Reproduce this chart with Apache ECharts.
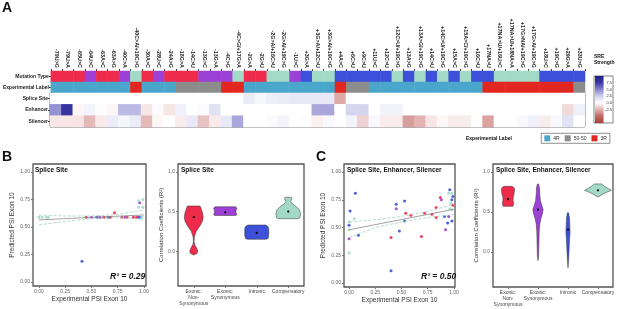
<!DOCTYPE html>
<html>
<head>
<meta charset="utf-8">
<script src="https://cdn.jsdelivr.net/npm/echarts@6/dist/echarts.min.js"></script>
<style>
  html, body { margin: 0; padding: 0; background: #fff; }
  #main { width: 617px; height: 309px; }
</style>
</head>
<body>
<div id="main"></div>
<script>
// ---- panel A: variants (columns of the heatmap)
var variants = ['-79U>G', '-79U>A', '-65U>C', '-64U>C', '-63A>C', '-63A>G', '-40C>A', '-40C>A/+19C>G',
  '-30A>C', '-28U>C', '-24A>G', '-18G>A', '-14C>U', '-13G>C', '-13G>A', '-4C>G', '-4C>G/+17G>A',
  '-2G>A', '-2G>U', '-2G>A/+16C>U', '-2G>A/+19C>G', '-1U>C', '+3G>A', '+3G>A/+12C>U', '+3G>A/+19C>G',
  '+4A>C', '+6C>U', '+9C>U', '+11U>C', '+12C>U', '+12C>U/+19C>G', '+13A>G', '+13A>G/+19C>G',
  '+14C>U', '+14C>U/+19C>G', '+15A>C', '+15A>C/+19C>G', '+16C>U', '+17NA>U', '+17NA>U/+16U>C',
  '+17NA>U/+18NA>A', '+17G>NA/+19C>G', '+17G>A/+19C>G', '+18U>C', '+19C>G', '+29G>A', '+33U>G']
var topRows = ['Mutation Type', 'Experimental Label']
var sreRows = ['Splice Site', 'Enhancer', 'Silencer']
// 0 exonic non-synonymous, 1 exonic synonymous, 2 intronic, 3 compensatory
var mutationType = [0, 0, 0, 1, 0, 0, 1, 3, 0, 1, 0, 0, 0, 1, 1, 1, 3, 0, 0, 3, 3, 1, 2, 3, 3,
  2, 2, 2, 2, 2, 3, 2, 3, 2, 3, 2, 3, 2, 2, 3, 3, 3, 3, 2, 2, 2, 2]
// 0 4R, 1 50-50, 2 3R
var expLabel = [0, 0, 0, 0, 0, 0, 0, 2, 0, 0, 0, 1, 1, 1, 1, 2, 2, 0, 0, 0, 0, 0, 0, 0, 0,
  2, 1, 1, 0, 0, 0, 0, 0, 0, 0, 0, 0, 0, 2, 2, 2, 2, 2, 2, 2, 2, 1]
var spliceSite = [0, 0, 0, 0, 0, 0, 0, 0, 0, 0, 0, 0, 0, 0, 0, 0, 0, 1.0, 0.5, 0.9, 1.0, 1.2, 1.2, 1.2, 1.2,
  -2.8, 0, 0, 0, 0, 0, 0, 0, 0, 0, 0, 0, 0, 0, 0, 0, 0, 0, 0, 0, 0, 0]
var enhancer = [4.5, 8.0, -0.3, 0.6, 0.1, -0.3, 3.2, 3.2, -0.8, 0.2, -0.8, 0.8, 0, 0.2, 1.5, 0, 0, 0, 0, 0,
  0, 0, 0, 3.8, 3.8, 0, 2.2, 2.2, 0, 0.7, 0.7, 0, 0, 0, 0, 0, 0, 0, 0, 0, 0, 0, 0, 0, 0, -1.2, 0.8]
var silencer = [-0.8, -0.8, -0.9, -2.3, -0.7, 1.0, 0.5, 1.0, -2.3, -0.3, 0, -0.6, 1.2, -2.0, -0.7, 1.2, 3.8,
  0, 0, 0.2, 0.6, 0, 0.1, -0.5, 0.3, 0, 0.6, -1.5, 0.3, -0.6, -0.6, -3.2, -2.5, -0.8, -0.3, -0.6, -0.6, 0,
  -3.0, 0, 0, 0.3, 0.8, -0.6, 0.3, 1.5, 0]
var sreTicks = [-2.5, 0, 2.5, 5, 7.5]

// ---- panels B / C: scatter (experimental vs predicted PSI)
var bNonSyn = [[0.45, 0.59], [0.62, 0.59], [0.68, 0.59], [0.72, 0.63], [0.79, 0.59], [0.84, 0.59], [0.9, 0.59], [0.93, 0.59]]
var bSyn = [[0.5, 0.59], [0.58, 0.59], [0.82, 0.59], [0.96, 0.72]]
var bIntronic = [[0.41, 0.19], [0.55, 0.59], [0.66, 0.59], [0.95, 0.59], [0.97, 0.59]]
var bComp = [[0.0, 0.59], [0.03, 0.59], [0.07, 0.59], [0.09, 0.59], [0.95, 0.74], [0.99, 0.75], [0.95, 0.68], [0.99, 0.68], [0.98, 0.59]]
var bFit = [[0, 0.565], [1, 0.61]]
var bUpper = [[0, 0.61], [0.25, 0.6], [0.5, 0.6], [0.75, 0.615], [1, 0.655]]
var bLower = [[0, 0.52], [0.25, 0.55], [0.5, 0.575], [0.75, 0.585], [1, 0.57]]

var cNonSyn = [[0.40, 0.41], [0.54, 0.63], [0.59, 0.61], [0.69, 0.42], [0.72, 0.63], [0.79, 0.62], [0.83, 0.68], [0.83, 0.59], [0.87, 0.77], [0.99, 0.70]]
var cSyn = [[0, 0.40], [0.45, 0.67], [0.88, 0.75], [0.92, 0.48], [0.95, 0.60]]
var cIntronic = [[0.06, 0.81], [0.01, 0.65], [0, 0.52], [0.09, 0.43], [0.45, 0.71], [0.53, 0.74], [0.53, 0.56], [0.48, 0.47],
  [0.40, 0.11], [0.91, 0.60], [0.94, 0.54], [0.96, 0.84], [0.98, 0.75], [0.99, 0.78], [0.98, 0.56]]
var cComp = [[0, 0.48], [0, 0.27], [0.05, 0.58], [0, 0.55], [0.98, 0.81], [0.98, 0.66], [0.96, 0.67], [0.95, 0.81], [0.97, 0.72]]
var cFit = [[0, 0.48], [1, 0.665]]
var cUpper = [[0, 0.55], [0.25, 0.57], [0.5, 0.6], [0.75, 0.645], [1, 0.71]]
var cLower = [[0, 0.41], [0.25, 0.5], [0.5, 0.55], [0.75, 0.59], [1, 0.62]]

// ---- violins: [R2 value, half width as share of the band]
var groups = ['Exonic:\nNon-\nSynonymous', 'Exonic:\nSynonymous', 'Intronic', 'Compensatory']
var bMedian = [0.43, 0.49, 0.23, 0.50]
var bProfiles = [
  [[-0.05, 0], [-0.03, 0.1], [0.0, 0.13], [0.04, 0.09], [0.08, 0.03], [0.12, 0.01], [0.18, 0.02], [0.25, 0.08],
    [0.32, 0.2], [0.38, 0.28], [0.43, 0.3], [0.48, 0.28], [0.53, 0.24], [0.57, 0.2]],
  [[0.45, 0.33], [0.46, 0.37], [0.49, 0.34], [0.51, 0.34], [0.54, 0.37], [0.56, 0.33]],
  [[0.15, 0.3], [0.16, 0.36], [0.2, 0.38], [0.28, 0.38], [0.31, 0.36], [0.33, 0.28]],
  [[0.41, 0.32], [0.42, 0.37], [0.47, 0.39], [0.52, 0.36], [0.56, 0.26], [0.6, 0.12], [0.63, 0.07], [0.66, 0.12], [0.68, 0.1]]
]
var cMedian = [0.66, 0.53, 0.28, 0.77]
var cProfiles = [
  [[0.57, 0.16], [0.6, 0.19], [0.64, 0.17], [0.68, 0.17], [0.72, 0.2], [0.77, 0.22], [0.8, 0.21], [0.82, 0.14]],
  [[-0.11, 0], [-0.05, 0.02], [0.1, 0.03], [0.25, 0.04], [0.35, 0.06], [0.42, 0.1], [0.48, 0.15], [0.53, 0.17],
    [0.58, 0.13], [0.64, 0.08], [0.72, 0.06], [0.8, 0.05], [0.85, 0.02]],
  [[-0.2, 0], [-0.1, 0.02], [0.05, 0.04], [0.15, 0.05], [0.25, 0.07], [0.33, 0.06], [0.42, 0.05], [0.49, 0.02]],
  [[0.69, 0.03], [0.71, 0.1], [0.74, 0.25], [0.77, 0.45], [0.79, 0.35], [0.82, 0.22], [0.85, 0.12]]
]

var mutColors = ['#ef2b4b', '#9d40d6', '#3c50d9', '#a2dac7']
var sreColors = ['#a8403c', '#bf6763', '#e2b3b1', '#ffffff', '#cfcfee', '#8583cc', '#3a38a6', '#1f1f80']
var FONT = 'Liberation Sans'

var mutData = mutationType.map(function (t, i) { return [i, 0, t] })
var expData = expLabel.map(function (t, i) { return [i, 1, t] })
var sreData = []
;[spliceSite, enhancer, silencer].forEach(function (row, r) {
  row.forEach(function (v, i) { sreData.push([i, r, v]) })
})

function violin(profiles) {
  return function (params, api) {
    var i = api.value(0)
    var band = api.size([1, 0])[0]
    var left = [], right = []
    profiles[i].forEach(function (p) {
      var pt = api.coord([i, p[0]])
      left.push([pt[0] - p[1] * band, pt[1]])
      right.unshift([pt[0] + p[1] * band, pt[1]])
    })
    var med = api.coord([i, api.value(1)])
    return {
      type: 'group',
      children: [
        { type: 'polygon', shape: { points: left.concat(right) }, style: { fill: mutColors[i], stroke: '#333', lineWidth: 0.5 } },
        { type: 'circle', shape: { cx: med[0], cy: med[1], r: 1.1 }, style: { fill: '#000' } }
      ]
    }
  }
}

function scatterAxis(idx, min, max, name, nameGap) {
  return {
    type: 'value', gridIndex: idx, min: min, max: max,
    name: name, nameLocation: 'middle', nameGap: nameGap,
    nameTextStyle: { fontSize: 6.5, color: '#333' },
    axisLine: { show: false, onZero: false },
    axisTick: { show: true, length: 2, lineStyle: { color: '#777' }, customValues: [0, 0.25, 0.5, 0.75, 1] },
    axisLabel: { fontSize: 5, color: '#666', margin: 3, customValues: [0, 0.25, 0.5, 0.75, 1],
      formatter: function (v) { return v.toFixed(2) } },
    splitLine: { show: false }
  }
}
function violinY(idx) {
  return {
    type: 'value', gridIndex: idx, min: -0.44, max: 1.1,
    name: 'Correlation Coefficients (R²)', nameLocation: 'middle', nameGap: 10,
    nameTextStyle: { fontSize: 6, color: '#333' },
    axisLine: { show: false, onZero: false },
    axisTick: { show: true, length: 2, lineStyle: { color: '#777' }, customValues: [0, 0.5, 1] },
    axisLabel: { fontSize: 5, color: '#666', margin: 3, customValues: [0, 0.5, 1],
      formatter: function (v) { return v.toFixed(1) } },
    splitLine: { show: false }
  }
}
function violinX(idx) {
  return {
    type: 'category', gridIndex: idx, data: groups,
    axisLine: { show: false, onZero: false },
    axisTick: { show: true, length: 2, alignWithLabel: true, lineStyle: { color: '#777' } },
    axisLabel: { fontSize: 5, color: '#444', margin: 3, interval: 0, lineHeight: 6 }
  }
}
function dots(name, data, x, y, color) {
  return { name: name, type: 'scatter', xAxisIndex: x, yAxisIndex: y, data: data, symbolSize: 3,
    itemStyle: { color: color, opacity: 0.9 }, silent: true }
}
function line(data, x, y, color, type) {
  return { type: 'line', xAxisIndex: x, yAxisIndex: y, data: data, symbol: 'none', silent: true,
    lineStyle: { color: color, width: 0.8, type: type } }
}
function label(text, left, top, size, extra) {
  var t = { text: text, left: left, top: top, padding: 0,
    textStyle: { fontSize: size, fontWeight: 'bold', color: '#111', fontFamily: FONT } }
  if (extra) Object.assign(t.textStyle, extra)
  return t
}

var chart = echarts.init(document.getElementById('main'))
var option = {
  animation: false,
  textStyle: { fontFamily: FONT },
  title: [
    label('A', 2, 1, 14),
    label('B', 2, 150, 14),
    label('C', 316, 150, 14),
    label('SRE\nStrength', 594, 54, 5, { align: 'center', lineHeight: 6 }),
    label('Experimental Label', 466, 136, 5),
    label('Splice Site', 35, 167, 6.5),
    label('Splice Site', 181, 167, 6.5),
    label('Splice Site, Enhancer, Silencer', 347, 167, 6.5),
    label('Splice Site, Enhancer, Silencer', 496, 167, 6.5),
    label('R² = 0.29', 110, 272, 8.5, { fontStyle: 'italic' }),
    label('R² = 0.50', 421, 272, 8.5, { fontStyle: 'italic' })
  ],
  grid: [
    { left: 50, top: 71, width: 535, height: 22 },
    { left: 50, top: 93, width: 535, height: 34, show: true, borderColor: '#333', borderWidth: 0.8 },
    { left: 594, top: 76, width: 19, height: 47, show: true, borderColor: '#333', borderWidth: 0.6 },
    { left: 33, top: 164, width: 113, height: 122, show: true, borderColor: '#555', borderWidth: 1.3 },
    { left: 178, top: 164, width: 126, height: 122, show: true, borderColor: '#555', borderWidth: 1.3 },
    { left: 344, top: 164, width: 111, height: 123, show: true, borderColor: '#555', borderWidth: 1.3 },
    { left: 493, top: 164, width: 122, height: 123, show: true, borderColor: '#555', borderWidth: 1.3 }
  ],
  xAxis: [
    { type: 'category', gridIndex: 0, position: 'top', data: variants,
      axisLine: { show: false },
      axisTick: { show: true, length: 2, lineStyle: { color: '#333' } },
      axisLabel: { rotate: 90, interval: 0, fontSize: 5.4, fontWeight: 'bold', color: '#222', margin: 3 } },
    { type: 'category', gridIndex: 1, data: variants, show: false },
    { type: 'value', gridIndex: 2, min: 0, max: 1, show: false },
    scatterAxis(3, -0.057, 1.02, 'Experimental PSI Exon 10', 10),
    violinX(4),
    scatterAxis(5, -0.048, 1.01, 'Experimental PSI Exon 10', 10),
    violinX(6)
  ],
  yAxis: [
    { type: 'category', gridIndex: 0, data: topRows, inverse: true,
      axisLine: { show: false },
      axisTick: { show: true, length: 2, alignWithLabel: true, lineStyle: { color: '#333' } },
      axisLabel: { fontSize: 5, fontWeight: 'bold', color: '#222', margin: 2 } },
    { type: 'category', gridIndex: 1, data: sreRows, inverse: true,
      axisLine: { show: false },
      axisTick: { show: true, length: 2, alignWithLabel: true, lineStyle: { color: '#333' } },
      axisLabel: { fontSize: 5, fontWeight: 'bold', color: '#222', margin: 2 } },
    { type: 'value', gridIndex: 2, min: -7.5, max: 10, interval: 2.5, position: 'right',
      axisLine: { show: false }, axisTick: { show: false }, splitLine: { show: false },
      axisLabel: { inside: true, fontSize: 4, color: '#333', margin: 1,
        formatter: function (v) { return sreTicks.indexOf(v) >= 0 ? v.toFixed(1) : '' } } },
    scatterAxis(3, -0.036, 1.073, 'Predicted PSI Exon 10', 17),
    violinY(4),
    scatterAxis(5, -0.036, 1.073, 'Predicted PSI Exon 10', 17),
    violinY(6)
  ],
  visualMap: [
    { type: 'piecewise', seriesIndex: 0, show: false,
      pieces: mutColors.map(function (c, i) { return { value: i, color: c } }) },
    { type: 'piecewise', seriesIndex: 1, show: true, orient: 'horizontal', left: 541, top: 133,
      itemWidth: 6, itemHeight: 6, itemGap: 5, itemSymbol: 'rect', padding: [2, 3],
      borderColor: '#444', borderWidth: 0.6, textGap: 3,
      textStyle: { fontSize: 5, color: '#333' },
      pieces: [{ value: 0, label: '4R', color: '#4aa7cb' }, { value: 1, label: '50-50', color: '#8c8c8c' },
        { value: 2, label: '3R', color: '#e1271f' }] },
    { type: 'continuous', seriesIndex: 2, show: false, min: -7.5, max: 10, inRange: { color: sreColors } }
  ],
  series: [
    { type: 'heatmap', xAxisIndex: 0, yAxisIndex: 0, data: mutData, silent: true },
    { type: 'heatmap', xAxisIndex: 0, yAxisIndex: 0, data: expData, silent: true },
    { type: 'heatmap', xAxisIndex: 1, yAxisIndex: 1, data: sreData, silent: true },
    { type: 'custom', xAxisIndex: 2, yAxisIndex: 2, data: [[0, -7.5, 10]], silent: true,
      renderItem: function (params, api) {
        var top = api.coord([0, api.value(2)])
        var bottom = api.coord([0.45, api.value(1)])
        var stops = sreColors.slice().reverse().map(function (c, i) {
          return { offset: i / (sreColors.length - 1), color: c }
        })
        return { type: 'rect', shape: { x: top[0] + 1, y: top[1], width: bottom[0] - top[0], height: bottom[1] - top[1] },
          style: { fill: new echarts.graphic.LinearGradient(0, 0, 0, 1, stops) } }
      } },
    line(bUpper, 3, 3, '#a5d3c2', 'dashed'),
    line(bLower, 3, 3, '#a5d3c2', 'dashed'),
    line(bFit, 3, 3, '#8a8a8a', 'solid'),
    dots('Exonic: Non-Synonymous', bNonSyn, 3, 3, mutColors[0]),
    dots('Exonic: Synonymous', bSyn, 3, 3, mutColors[1]),
    dots('Intronic', bIntronic, 3, 3, mutColors[2]),
    dots('Compensatory', bComp, 3, 3, mutColors[3]),
    { type: 'custom', xAxisIndex: 4, yAxisIndex: 4, silent: true, renderItem: violin(bProfiles),
      data: bMedian.map(function (m, i) { return [i, m] }) },
    line(cUpper, 5, 5, '#a5d3c2', 'dashed'),
    line(cLower, 5, 5, '#a5d3c2', 'dashed'),
    line(cFit, 5, 5, '#8a8a8a', 'solid'),
    dots('Exonic: Non-Synonymous', cNonSyn, 5, 5, mutColors[0]),
    dots('Exonic: Synonymous', cSyn, 5, 5, mutColors[1]),
    dots('Intronic', cIntronic, 5, 5, mutColors[2]),
    dots('Compensatory', cComp, 5, 5, mutColors[3]),
    { type: 'custom', xAxisIndex: 6, yAxisIndex: 6, silent: true, renderItem: violin(cProfiles),
      data: cMedian.map(function (m, i) { return [i, m] }) }
  ]
}
chart.setOption(option)
</script>
</body>
</html>
